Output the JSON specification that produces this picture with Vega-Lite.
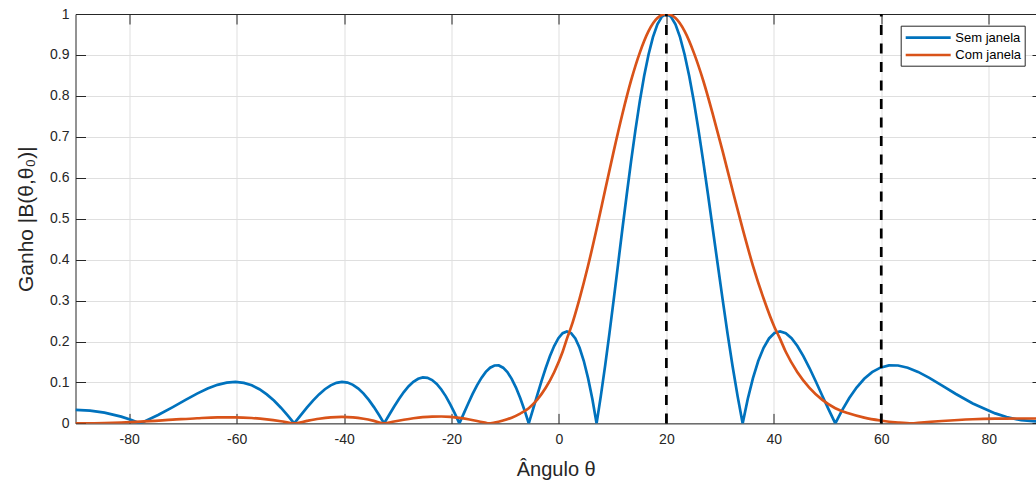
{
  "$schema": "https://vega.github.io/schema/vega-lite/v6.json",
  "width": 960.5,
  "height": 409.4,
  "autosize": {"type": "none"},
  "padding": {"left": 75.5, "top": 14, "right": 0, "bottom": 56.6},
  "background": "white",
  "config": {"view": {"stroke": null}, "font": "Liberation Sans"},
  "datasets": {
    "sem": [
      {"theta": -90, "ganho": 0.0328}, {"theta": -87.29, "ganho": 0.0313}, {"theta": -84.61, "ganho": 0.0264},
      {"theta": -81.49, "ganho": 0.0165}, {"theta": -79.57, "ganho": 0.0083}, {"theta": -77.95, "ganho": 0},
      {"theta": -74.63, "ganho": 0.0204}, {"theta": -71.89, "ganho": 0.0398}, {"theta": -69.51, "ganho": 0.0574},
      {"theta": -67.37, "ganho": 0.0727}, {"theta": -65.4, "ganho": 0.0851}, {"theta": -63.57, "ganho": 0.0942},
      {"theta": -61.85, "ganho": 0.0996}, {"theta": -60.22, "ganho": 0.1012}, {"theta": -58.67, "ganho": 0.099},
      {"theta": -57.19, "ganho": 0.093}, {"theta": -55.76, "ganho": 0.0835}, {"theta": -54.39, "ganho": 0.0709},
      {"theta": -53.06, "ganho": 0.0557}, {"theta": -51.76, "ganho": 0.0383}, {"theta": -50.51, "ganho": 0.0195},
      {"theta": -49.29, "ganho": 0}, {"theta": -48.09, "ganho": 0.0195}, {"theta": -46.93, "ganho": 0.0383},
      {"theta": -45.79, "ganho": 0.0557}, {"theta": -44.67, "ganho": 0.0709}, {"theta": -43.57, "ganho": 0.0835},
      {"theta": -42.49, "ganho": 0.093}, {"theta": -41.43, "ganho": 0.099}, {"theta": -40.39, "ganho": 0.1012},
      {"theta": -39.36, "ganho": 0.0996}, {"theta": -38.35, "ganho": 0.0942}, {"theta": -37.35, "ganho": 0.0851},
      {"theta": -36.37, "ganho": 0.0727}, {"theta": -35.4, "ganho": 0.0574}, {"theta": -34.44, "ganho": 0.0398},
      {"theta": -33.49, "ganho": 0.0204}, {"theta": -32.55, "ganho": 0}, {"theta": -31.62, "ganho": 0.0206},
      {"theta": -30.7, "ganho": 0.0408}, {"theta": -29.78, "ganho": 0.0597}, {"theta": -28.88, "ganho": 0.0765},
      {"theta": -27.98, "ganho": 0.0908}, {"theta": -27.1, "ganho": 0.1017}, {"theta": -26.21, "ganho": 0.109},
      {"theta": -25.34, "ganho": 0.1122}, {"theta": -24.47, "ganho": 0.1112}, {"theta": -23.61, "ganho": 0.1059},
      {"theta": -22.75, "ganho": 0.0964}, {"theta": -21.9, "ganho": 0.0829}, {"theta": -21.05, "ganho": 0.066},
      {"theta": -20.21, "ganho": 0.046}, {"theta": -19.37, "ganho": 0.0238}, {"theta": -18.54, "ganho": 0},
      {"theta": -17.71, "ganho": 0.0245}, {"theta": -16.89, "ganho": 0.0487}, {"theta": -16.07, "ganho": 0.0719},
      {"theta": -15.25, "ganho": 0.093}, {"theta": -14.43, "ganho": 0.1112}, {"theta": -13.62, "ganho": 0.1258},
      {"theta": -12.81, "ganho": 0.1361}, {"theta": -12.0, "ganho": 0.1414}, {"theta": -11.2, "ganho": 0.1415},
      {"theta": -10.4, "ganho": 0.1361}, {"theta": -9.6, "ganho": 0.1252}, {"theta": -8.8, "ganho": 0.1089},
      {"theta": -8.0, "ganho": 0.0876}, {"theta": -7.21, "ganho": 0.0618}, {"theta": -6.41, "ganho": 0.0323},
      {"theta": -5.62, "ganho": 0}, {"theta": -4.83, "ganho": 0.0341}, {"theta": -4.04, "ganho": 0.0689},
      {"theta": -3.25, "ganho": 0.103}, {"theta": -2.46, "ganho": 0.1353}, {"theta": -1.67, "ganho": 0.1644},
      {"theta": -0.89, "ganho": 0.1891}, {"theta": -0.1, "ganho": 0.2081}, {"theta": 0.69, "ganho": 0.2203},
      {"theta": 1.48, "ganho": 0.2247}, {"theta": 2.26, "ganho": 0.2207}, {"theta": 3.05, "ganho": 0.2075},
      {"theta": 3.84, "ganho": 0.1848}, {"theta": 4.63, "ganho": 0.1524}, {"theta": 5.42, "ganho": 0.1106},
      {"theta": 6.22, "ganho": 0.0595}, {"theta": 7.01, "ganho": 0}, {"theta": 7.8, "ganho": 0.0672},
      {"theta": 8.6, "ganho": 0.141}, {"theta": 9.4, "ganho": 0.22}, {"theta": 10.2, "ganho": 0.3029},
      {"theta": 11.0, "ganho": 0.388}, {"theta": 11.8, "ganho": 0.4736}, {"theta": 12.61, "ganho": 0.5579},
      {"theta": 13.42, "ganho": 0.6393}, {"theta": 14.23, "ganho": 0.7158}, {"theta": 15.04, "ganho": 0.786},
      {"theta": 15.86, "ganho": 0.8484}, {"theta": 16.68, "ganho": 0.9012}, {"theta": 17.5, "ganho": 0.9437},
      {"theta": 18.33, "ganho": 0.9748}, {"theta": 19.16, "ganho": 0.9936}, {"theta": 20, "ganho": 1},
      {"theta": 20.84, "ganho": 0.9936}, {"theta": 21.69, "ganho": 0.9748}, {"theta": 22.54, "ganho": 0.9437},
      {"theta": 23.39, "ganho": 0.9012}, {"theta": 24.25, "ganho": 0.8484}, {"theta": 25.12, "ganho": 0.786},
      {"theta": 25.99, "ganho": 0.7158}, {"theta": 26.87, "ganho": 0.6393}, {"theta": 27.76, "ganho": 0.5579},
      {"theta": 28.65, "ganho": 0.4736}, {"theta": 29.56, "ganho": 0.388}, {"theta": 30.47, "ganho": 0.3029},
      {"theta": 31.38, "ganho": 0.22}, {"theta": 32.31, "ganho": 0.141}, {"theta": 33.25, "ganho": 0.0672},
      {"theta": 34.2, "ganho": 0}, {"theta": 35.15, "ganho": 0.0595}, {"theta": 36.12, "ganho": 0.1106},
      {"theta": 37.1, "ganho": 0.1524}, {"theta": 38.1, "ganho": 0.1848}, {"theta": 39.11, "ganho": 0.2075},
      {"theta": 40.13, "ganho": 0.2207}, {"theta": 41.17, "ganho": 0.2247}, {"theta": 42.22, "ganho": 0.2203},
      {"theta": 43.3, "ganho": 0.2081}, {"theta": 44.39, "ganho": 0.1891}, {"theta": 45.5, "ganho": 0.1644},
      {"theta": 46.64, "ganho": 0.1353}, {"theta": 47.8, "ganho": 0.103}, {"theta": 48.98, "ganho": 0.0689},
      {"theta": 50.2, "ganho": 0.0341}, {"theta": 51.45, "ganho": 0}, {"theta": 52.73, "ganho": 0.0323},
      {"theta": 54.05, "ganho": 0.0618}, {"theta": 55.41, "ganho": 0.0876}, {"theta": 56.83, "ganho": 0.1089},
      {"theta": 58.29, "ganho": 0.1252}, {"theta": 59.83, "ganho": 0.1361}, {"theta": 61.43, "ganho": 0.1415},
      {"theta": 63.13, "ganho": 0.1414}, {"theta": 64.93, "ganho": 0.1361}, {"theta": 66.86, "ganho": 0.1258},
      {"theta": 68.95, "ganho": 0.1112}, {"theta": 71.27, "ganho": 0.093}, {"theta": 73.9, "ganho": 0.0719},
      {"theta": 77.04, "ganho": 0.0487}, {"theta": 81.22, "ganho": 0.0245}, {"theta": 83.33, "ganho": 0.0156},
      {"theta": 86.05, "ganho": 0.0078}, {"theta": 90, "ganho": 0.0039}
    ],
    "com": [
      {"theta": -90, "ganho": 0}, {"theta": -87.29, "ganho": 0.0002}, {"theta": -84.61, "ganho": 0.0008},
      {"theta": -81.49, "ganho": 0.0021}, {"theta": -77.95, "ganho": 0.0042}, {"theta": -71.89, "ganho": 0.009},
      {"theta": -67.37, "ganho": 0.0126}, {"theta": -63.57, "ganho": 0.0147}, {"theta": -60.22, "ganho": 0.0148},
      {"theta": -57.19, "ganho": 0.0132}, {"theta": -54.39, "ganho": 0.0098}, {"theta": -51.76, "ganho": 0.0052},
      {"theta": -49.29, "ganho": 0}, {"theta": -46.93, "ganho": 0.0061}, {"theta": -44.67, "ganho": 0.0113},
      {"theta": -42.49, "ganho": 0.0148}, {"theta": -40.39, "ganho": 0.016}, {"theta": -38.35, "ganho": 0.0148},
      {"theta": -36.37, "ganho": 0.0113}, {"theta": -34.44, "ganho": 0.0061}, {"theta": -32.55, "ganho": 0},
      {"theta": -30.7, "ganho": 0.0047}, {"theta": -28.88, "ganho": 0.009}, {"theta": -27.1, "ganho": 0.0126},
      {"theta": -25.34, "ganho": 0.0153}, {"theta": -23.61, "ganho": 0.0167}, {"theta": -21.9, "ganho": 0.0169},
      {"theta": -20.21, "ganho": 0.0158}, {"theta": -18.54, "ganho": 0.0135}, {"theta": -16.89, "ganho": 0.0101},
      {"theta": -15.25, "ganho": 0.0059}, {"theta": -13.62, "ganho": 0.0013}, {"theta": -13.17, "ganho": 0},
      {"theta": -12.0, "ganho": 0.002}, {"theta": -10.4, "ganho": 0.007}, {"theta": -8.8, "ganho": 0.014},
      {"theta": -7.21, "ganho": 0.024}, {"theta": -5.62, "ganho": 0.037}, {"theta": -4.04, "ganho": 0.058},
      {"theta": -2.46, "ganho": 0.087}, {"theta": -0.89, "ganho": 0.125}, {"theta": 0.69, "ganho": 0.175},
      {"theta": 1.57, "ganho": 0.21}, {"theta": 2.26, "ganho": 0.235}, {"theta": 3.84, "ganho": 0.305},
      {"theta": 5.42, "ganho": 0.385}, {"theta": 7.01, "ganho": 0.475}, {"theta": 8.6, "ganho": 0.57},
      {"theta": 10.2, "ganho": 0.665}, {"theta": 11.8, "ganho": 0.755}, {"theta": 13.42, "ganho": 0.837},
      {"theta": 15.04, "ganho": 0.905}, {"theta": 16.68, "ganho": 0.958}, {"theta": 18.33, "ganho": 0.99},
      {"theta": 20, "ganho": 1}, {"theta": 21.69, "ganho": 0.99}, {"theta": 23.39, "ganho": 0.958},
      {"theta": 25.12, "ganho": 0.905}, {"theta": 26.87, "ganho": 0.837}, {"theta": 28.65, "ganho": 0.755},
      {"theta": 30.47, "ganho": 0.665}, {"theta": 32.31, "ganho": 0.57}, {"theta": 34.2, "ganho": 0.475},
      {"theta": 36.12, "ganho": 0.385}, {"theta": 38.1, "ganho": 0.305}, {"theta": 40.13, "ganho": 0.235},
      {"theta": 41.04, "ganho": 0.21}, {"theta": 42.22, "ganho": 0.175}, {"theta": 44.39, "ganho": 0.125},
      {"theta": 46.64, "ganho": 0.087}, {"theta": 48.98, "ganho": 0.058}, {"theta": 51.45, "ganho": 0.037},
      {"theta": 54.05, "ganho": 0.024}, {"theta": 56.83, "ganho": 0.014}, {"theta": 59.83, "ganho": 0.007},
      {"theta": 63.13, "ganho": 0.002}, {"theta": 65.76, "ganho": 0}, {"theta": 66.86, "ganho": 0.0013},
      {"theta": 71.27, "ganho": 0.0059}, {"theta": 77.04, "ganho": 0.0101}, {"theta": 81.22, "ganho": 0.0115},
      {"theta": 83.33, "ganho": 0.0118}, {"theta": 86.05, "ganho": 0.012}, {"theta": 90, "ganho": 0.012}
    ],
    "marcas": [
      {"theta": 20, "y0": 0, "y1": 1},
      {"theta": 60, "y0": 0, "y1": 1}
    ]
  },
  "layer": [
    {
      "data": {"name": "sem"},
      "mark": {"type": "line", "strokeWidth": 2.7, "interpolate": "linear", "clip": true},
      "encoding": {
        "x": {
          "field": "theta", "type": "quantitative",
          "scale": {"domain": [-90, 88.81], "nice": false, "zero": false},
          "axis": {
            "orient": "bottom",
            "values": [-80, -60, -40, -20, 0, 20, 40, 60, 80],
            "labelExpr": "'' + datum.value",
            "grid": true, "gridColor": "#dfdfdf", "gridWidth": 1,
            "domain": true, "domainColor": "#262626", "domainWidth": 1,
            "ticks": true, "tickColor": "#262626", "tickWidth": 1, "tickSize": -10,
            "labelPadding": 19.5, "labelFont": "Liberation Sans", "labelFontSize": 14,
            "labelColor": "#262626", "labelBaseline": "top", "labelFlush": false, "labelOverlap": false,
            "title": "Ângulo θ", "titleFont": "Liberation Sans", "titleFontSize": 20,
            "titleFontWeight": "normal", "titleColor": "#262626",
            "titleBaseline": "alphabetic", "titleAlign": "center", "titleX": 480.25, "titleY": 51.6
          }
        },
        "y": {
          "field": "ganho", "type": "quantitative",
          "scale": {"domain": [0, 1], "nice": false},
          "axis": {
            "orient": "left",
            "values": [0, 0.1, 0.2, 0.3, 0.4, 0.5, 0.6, 0.7, 0.8, 0.9, 1],
            "labelExpr": "'' + datum.value",
            "grid": true, "gridColor": "#dfdfdf", "gridWidth": 1,
            "domain": true, "domainColor": "#262626", "domainWidth": 1,
            "ticks": true, "tickColor": "#262626", "tickWidth": 1, "tickSize": -10,
            "labelPadding": 16.5, "labelFont": "Liberation Sans", "labelFontSize": 14,
            "labelColor": "#262626", "labelAlign": "right", "labelBaseline": "middle", "labelOverlap": false, "labelFlush": false,
            "title": "Ganho |B(θ,θ₀)|", "titleFont": "Liberation Sans", "titleFontSize": 21,
            "titleFontWeight": "normal", "titleColor": "#262626",
            "titleAngle": 270, "titleBaseline": "alphabetic", "titleAlign": "center",
            "titleX": -43.2, "titleY": 204.7
          }
        },
        "color": {
          "datum": "Sem janela", "type": "nominal",
          "scale": {"domain": ["Sem janela", "Com janela"], "range": ["#0072BD", "#D95319"]},
          "legend": {
            "title": null, "orient": "none", "legendX": 825.2, "legendY": 11.7,
            "symbolType": "M-1,0H5.4286", "symbolSize": 196, "symbolStrokeWidth": 2.7,
            "labelFont": "Liberation Sans", "labelFontSize": 13, "labelColor": "#000000",
            "labelOffset": 34.1, "padding": 3.5, "rowPadding": 1.3,
            "strokeColor": "#262626", "fillColor": "#ffffff", "offset": 0
          }
        }
      }
    },
    {
      "data": {"name": "com"},
      "mark": {"type": "line", "strokeWidth": 2.7, "interpolate": "monotone", "clip": true},
      "encoding": {
        "x": {
          "field": "theta", "type": "quantitative",
          "axis": {
            "orient": "top",
            "values": [-80, -60, -40, -20, 0, 20, 40, 60, 80],
            "labels": false, "grid": false,
            "domain": true, "domainColor": "#262626", "domainWidth": 1,
            "ticks": true, "tickColor": "#262626", "tickWidth": 1, "tickSize": -10,
            "title": null
          }
        },
        "y": {
          "field": "ganho", "type": "quantitative",
          "axis": {
            "orient": "right",
            "values": [0, 0.1, 0.2, 0.3, 0.4, 0.5, 0.6, 0.7, 0.8, 0.9, 1],
            "labels": false, "grid": false, "domain": false,
            "ticks": true, "tickColor": "#262626", "tickWidth": 1, "tickSize": -4,
            "title": null
          }
        },
        "color": {"datum": "Com janela", "type": "nominal"}
      }
    },
    {
      "data": {"name": "marcas"},
      "mark": {"type": "rule", "color": "#000000", "strokeWidth": 2.7, "strokeDash": [10, 8.5]},
      "encoding": {
        "x": {"field": "theta", "type": "quantitative", "axis": null},
        "y": {"field": "y0", "type": "quantitative", "axis": null},
        "y2": {"field": "y1"}
      }
    }
  ],
  "resolve": {"axis": {"x": "independent", "y": "independent"}}
}
